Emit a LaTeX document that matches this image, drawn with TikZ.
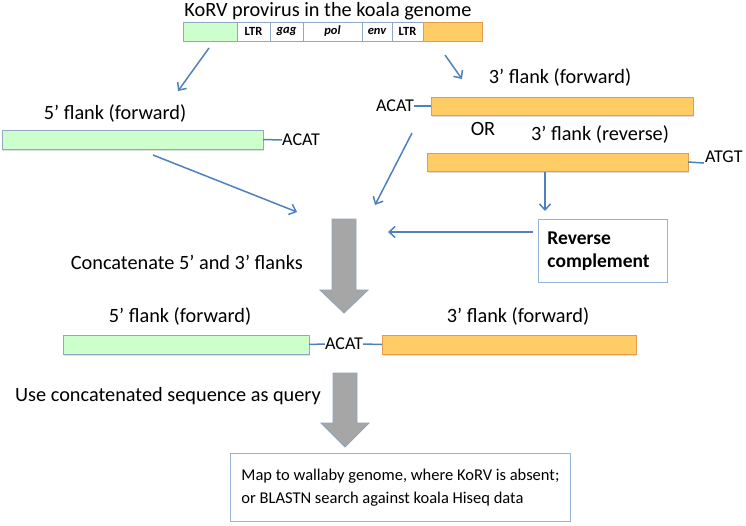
\documentclass[tikz,border=0pt]{standalone}
\usepackage{fontspec}
\setmainfont{Carlito}
\usetikzlibrary{arrows.meta,shadows}
\definecolor{gfill}{HTML}{CCFFCC}
\definecolor{gline}{HTML}{8EA9C8}
\definecolor{ofill}{HTML}{FFCC66}
\definecolor{oline}{HTML}{E39B4C}
\definecolor{ablue}{HTML}{4F81BD}
\definecolor{gshaft}{HTML}{A6A6A6}
\definecolor{gshline}{HTML}{8EA4BE}
\definecolor{boxline}{HTML}{95B3D7}
\tikzset{
  bar/.style={line width=0.8pt, anchor=north west, inner sep=0pt, outer sep=0pt,
    drop shadow={shadow xshift=1pt, shadow yshift=-1.5pt, opacity=0.25}},
  gbar/.style={bar, fill=gfill, draw=gline},
  obar/.style={bar, fill=ofill, draw=oline},
  cell/.style={draw=gline, line width=0.8pt, fill=white, anchor=north west, inner sep=0pt,
    outer sep=0pt, minimum height=19pt, font=\bfseries\fontsize{12.5}{14}\selectfont},
  lbl/.style={font=\fontsize{20.3}{24}\selectfont, inner sep=0pt},
  seq/.style={font=\fontsize{18}{22}\selectfont, inner sep=0pt},
  ttl/.style={font=\fontsize{20.3}{24}\selectfont, inner sep=0pt},
  arr/.style={draw=ablue, line width=1.5pt, -{Straight Barb[length=6pt,width=11pt]}},
  tickln/.style={draw=ablue, line width=1.5pt},
  bigarrow/.style={fill=gshaft, draw=gshline, line width=0.8pt},
  txtbox/.style={draw=boxline, line width=0.9pt, fill=white, anchor=north west, align=left}
}
\begin{document}
\begin{tikzpicture}[x=1pt,y=-1pt]
\useasboundingbox[fill=white] (0,0) rectangle (746,525);

% title and provirus bar
\node[ttl] (title) at (328,11) {KoRV provirus in the koala genome};
\node[cell, fill=gfill, minimum width=54pt] (tg) at (183,22) {};
\node[cell, minimum width=33pt] (ltr1) at (237,22) {LTR};
\node[cell, minimum width=33pt] (gag) at (270,22) {\itshape gag};
\node[cell, minimum width=59pt] (pol) at (303,22) {\itshape pol};
\node[cell, minimum width=30pt] (env) at (362,22) {\itshape env};
\node[cell, minimum width=31pt] (ltr2) at (392,22) {LTR};
\node[cell, fill=ofill, draw=oline, minimum width=59pt] (to) at (423,22) {};

% 5' flank (forward)
\node[lbl] (l5) at (115,113) {5’ flank (forward)};
\node[gbar, minimum width=261pt, minimum height=19pt] (g1) at (2,130) {};
\node[seq, anchor=west] (acat1) at (282,140) {ACAT};
\draw[tickln] (g1.east) -- (acat1.west);

% 3' flank (forward)
\node[lbl] (l3f) at (560,77) {3’ flank (forward)};
\node[obar, minimum width=262pt, minimum height=18pt] (o1) at (431,97) {};
\node[seq, anchor=east] (acat2) at (414,106) {ACAT};
\draw[tickln] (acat2.east) -- (o1.west);
\node[lbl] (or) at (483,129) {OR};

% 3' flank (reverse)
\node[lbl] (l3r) at (600,134) {3’ flank (reverse)};
\node[obar, minimum width=261pt, minimum height=18pt] (o2) at (427,153) {};
\node[seq, anchor=west] (atgt) at (705,157) {ATGT};
\coordinate (atgtl) at (704,163);
\draw[tickln] (o2.east) -- (atgtl);

% reverse complement box
\node[txtbox, minimum width=129pt, minimum height=63pt, inner xsep=9pt, text width=111pt,
  font=\bfseries\fontsize{19.5}{23}\selectfont] (rc) at (538,219) {Reverse\\complement};

% thin arrows
\coordinate (a1s) at (209,48);  \coordinate (a1e) at (178,91);
\coordinate (a2s) at (445,55);  \coordinate (a2e) at (462,79);
\coordinate (a3s) at (153,155); \coordinate (a3e) at (297,212);
\coordinate (a4s) at (412,133); \coordinate (a4e) at (375,205);
\coordinate (a5s) at (545,172); \coordinate (a5e) at (545,211);
\coordinate (a6s) at (533,232); \coordinate (a6e) at (388,232);
\draw[arr] (a1s) -- (a1e);
\draw[arr] (a2s) -- (a2e);
\draw[arr] (a3s) -- (a3e);
\draw[arr] (a4s) -- (a4e);
\draw[arr] (a5s) -- (a5e);
\draw[arr] (a6s) -- (a6e);

% concatenate
\node[lbl, anchor=east] (conc) at (303,262) {Concatenate 5’ and 3’ flanks};
\draw[bigarrow] (332,219) -- (356,219) -- (356,290) -- (368,290) -- (344,313) -- (320,290) -- (332,290) -- cycle;

% concatenated
\node[lbl] (l5b) at (180,316) {5’ flank (forward)};
\node[lbl] (l3b) at (518,316) {3’ flank (forward)};
\node[gbar, minimum width=246pt, minimum height=19pt] (g2) at (63,335) {};
\node[obar, minimum width=254pt, minimum height=19pt] (o3) at (382,335) {};
\node[seq] (acat3) at (344,344) {ACAT};
\draw[tickln] (g2.east) -- (acat3.west);
\draw[tickln] (acat3.east) -- (o3.west);

% query
\node[lbl, anchor=west] (query) at (15,396) {Use concatenated sequence as query};
\draw[bigarrow] (333,373) -- (357,373) -- (357,423) -- (369,423) -- (345,447) -- (321,423) -- (333,423) -- cycle;

% final box
\node[txtbox, minimum width=333pt, minimum height=68pt, inner xsep=11pt, inner ysep=10pt,
  font=\fontsize{16.5}{23}\selectfont] (final) at (230,453)
  {Map to wallaby genome, where KoRV is absent;\\or BLASTN search against koala Hiseq data};
\end{tikzpicture}
\end{document}
